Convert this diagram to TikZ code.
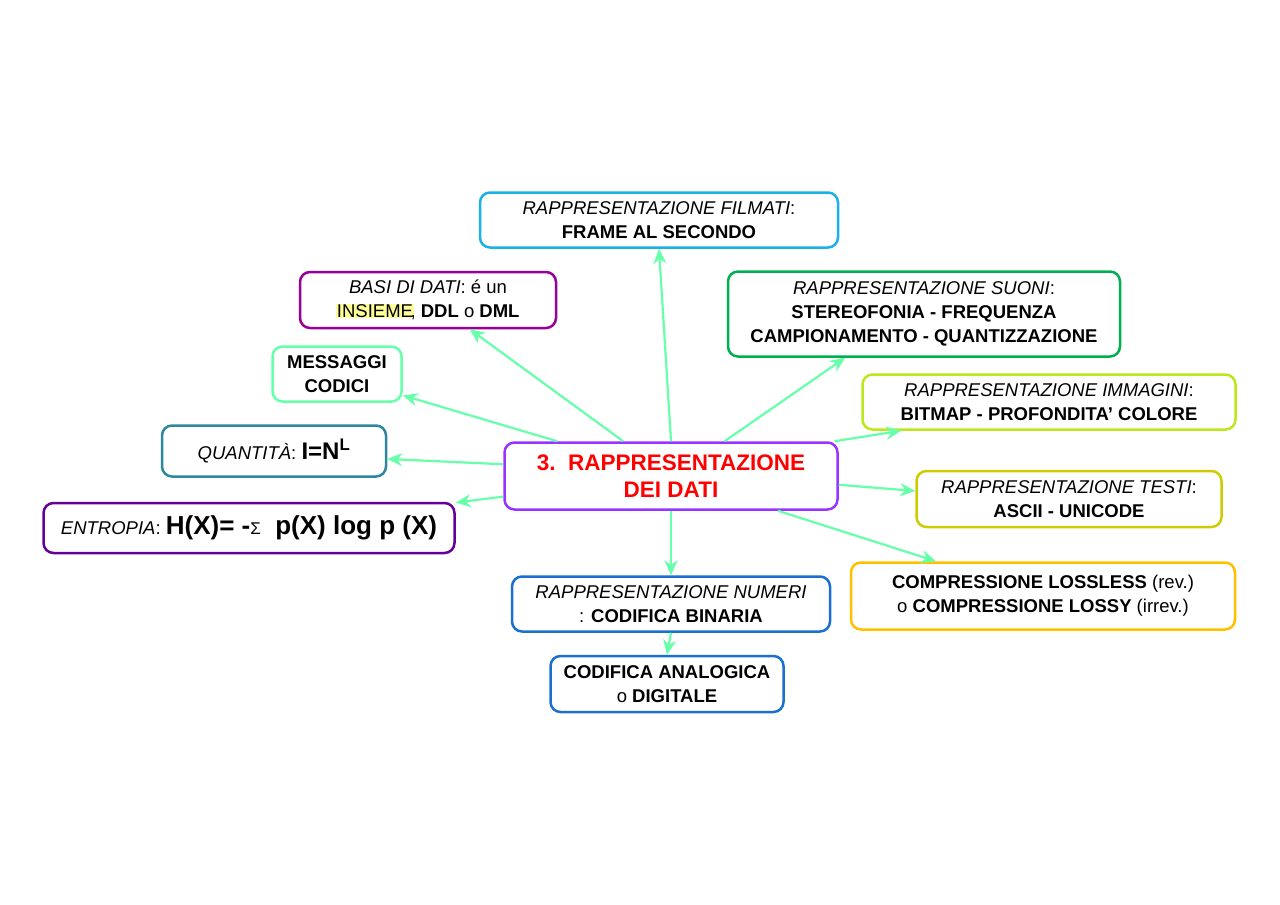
\documentclass[tikz,border=0pt]{standalone}
\usepackage{fontspec}
\setmainfont{Liberation Sans}
\usetikzlibrary{arrows.meta}
\definecolor{mint}{HTML}{66FFAA}
\definecolor{cfilm}{HTML}{1AB0E8}
\definecolor{cbasi}{HTML}{990099}
\definecolor{cquant}{HTML}{2E86A0}
\definecolor{centr}{HTML}{660099}
\definecolor{cnum}{HTML}{1A6FD0}
\definecolor{csuoni}{HTML}{00B050}
\definecolor{cimm}{HTML}{BBE81A}
\definecolor{ctesti}{HTML}{CCCC00}
\definecolor{ccomp}{HTML}{FFC000}
\definecolor{ccentro}{HTML}{9933FF}
\definecolor{hl}{HTML}{FFFF99}
\setlength{\fboxsep}{0.5pt}
\tikzset{
  box/.style={draw=#1, line width=2.5pt, rounded corners=10pt, fill=white, align=center,
    inner sep=1pt, font=\fontsize{18.5}{24}\selectfont},
  link/.style={draw=mint, line width=2.2pt, -{Stealth[length=15pt,width=13pt]}}
}
\begin{document}
\begin{tikzpicture}[x=1pt,y=-1pt]
\useasboundingbox (0,0) rectangle (1280,905);
\node (centro) at (671,476) [box=ccentro, minimum width=333pt, minimum height=67pt,
  font=\fontsize{22.5}{27}\selectfont\bfseries, text=red] {3.\ \ RAPPRESENTAZIONE\\DEI DATI};
\node (film) at (659,220) [box=cfilm, minimum width=358pt, minimum height=55pt]
  {\textit{RAPPRESENTAZIONE FILMATI}:\\\textbf{FRAME AL SECONDO}};
\node (basi) at (428,300) [box=cbasi, minimum width=256pt, minimum height=56pt]
  {\textit{BASI DI DATI}: é un\\\colorbox{hl}{INSIEME}\hspace{-3pt}, \textbf{DDL} o \textbf{DML}};
\node (mess) at (337,374) [box=mint, minimum width=129pt, minimum height=55pt, font=\fontsize{18.5}{24}\selectfont\bfseries]
  {MESSAGGI\\CODICI};
\node (quant) at (274,451) [box=cquant, minimum width=224pt, minimum height=51pt]
  {\textit{QUANTITÀ}: {\fontsize{24}{26}\selectfont\textbf{I=N\textsuperscript{L}}}};
\node (entr) at (249,528) [box=centr, minimum width=411pt, minimum height=50pt]
  {\textit{ENTROPIA}: {\fontsize{26}{28}\selectfont\textbf{H(X)= -}\normalfont{\fontsize{17}{18}\selectfont Σ}\textbf{\ \ p(X) log p (X)}}};
\node (num) at (671,604) [box=cnum, minimum width=318pt, minimum height=55pt]
  {\textit{RAPPRESENTAZIONE NUMERI}\\: \textbf{CODIFICA BINARIA}};
\node (anal) at (667,684) [box=cnum, minimum width=233pt, minimum height=56pt]
  {\textbf{CODIFICA ANALOGICA}\\o \textbf{DIGITALE}};
\node (suoni) at (924,314) [box=csuoni, minimum width=392pt, minimum height=85pt]
  {\textit{RAPPRESENTAZIONE SUONI}:\\\textbf{STEREOFONIA - FREQUENZA}\\\textbf{CAMPIONAMENTO - QUANTIZZAZIONE}};
\node (imm) at (1049,402) [box=cimm, minimum width=373pt, minimum height=55pt]
  {\textit{RAPPRESENTAZIONE IMMAGINI}:\\\textbf{BITMAP - PROFONDITA' COLORE}};
\node (testi) at (1069,499) [box=ctesti, minimum width=305pt, minimum height=56pt]
  {\textit{RAPPRESENTAZIONE TESTI}:\\\textbf{ASCII - UNICODE}};
\node (comp) at (1043,596) [box=ccomp, minimum width=384pt, minimum height=67pt]
  {\textbf{COMPRESSIONE LOSSLESS} (rev.)\\o \textbf{COMPRESSIONE LOSSY} (irrev.)};
\draw [link] (centro.90) -- (film.south);
\draw [link] (centro.144) -- (basi.325);
\draw [link] (centro.163) -- (mess.342);
\draw [link] (centro.176) -- (quant.356);
\draw [link] (centro.187) -- (entr.7);
\draw [link] (centro.south) -- (num.north);
\draw [link] (num.south) -- (anal.north);
\draw [link] (centro.33) -- (suoni.209);
\draw [link] (centro.12) -- (imm.191);
\draw [link] (centro.357) -- (testi.177);
\draw [link] (centro.342) -- (comp.162);
\end{tikzpicture}
\end{document}
